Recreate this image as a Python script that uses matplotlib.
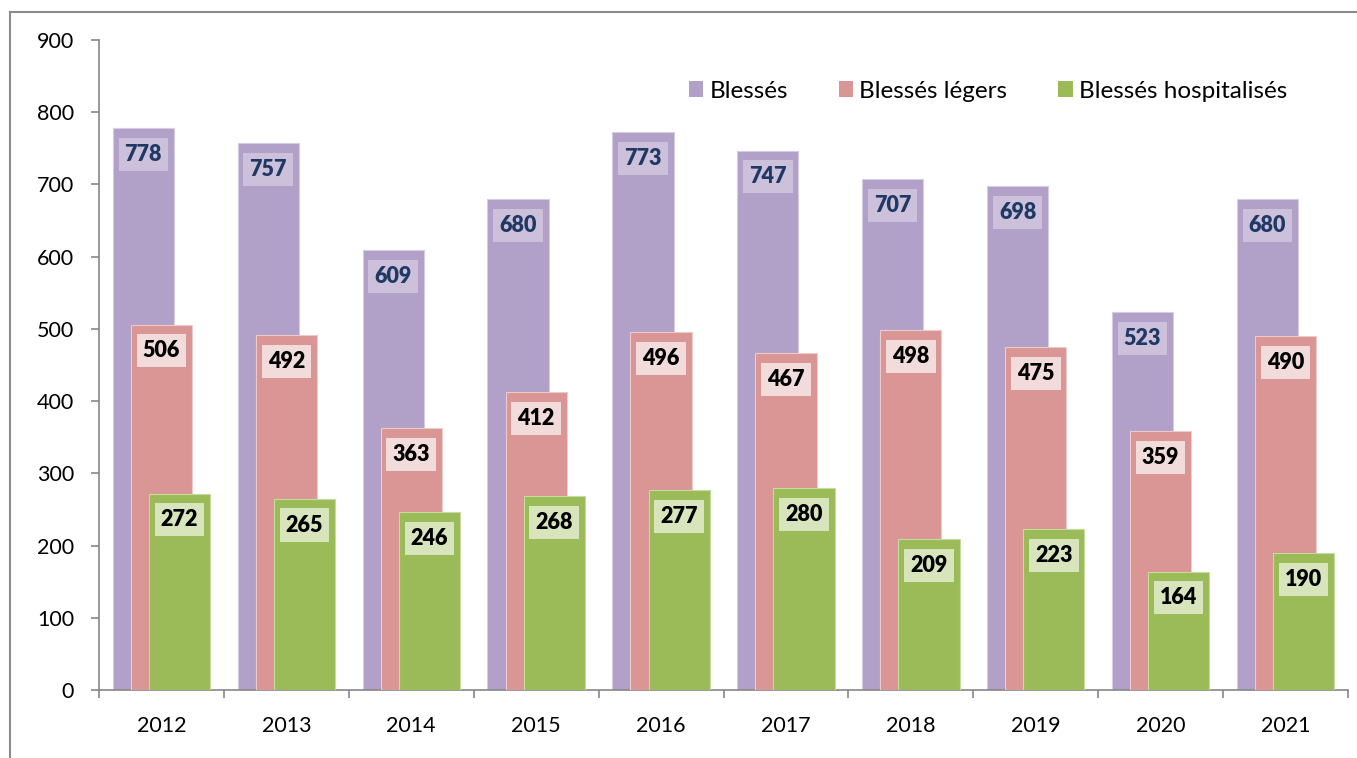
import matplotlib
matplotlib.use("Agg")
import matplotlib.pyplot as plt
from matplotlib.lines import Line2D
import numpy as np

years = ["2012", "2013", "2014", "2015", "2016", "2017", "2018", "2019", "2020", "2021"]
blesses = [778, 757, 609, 680, 773, 747, 707, 698, 523, 680]
blesses_legers = [506, 492, 363, 412, 496, 467, 498, 475, 359, 490]
blesses_hosp = [272, 265, 246, 268, 277, 280, 209, 223, 164, 190]
series_names = ["Blessés", "Blessés légers", "Blessés hospitalisés"]
yticks = [0, 100, 200, 300, 400, 500, 600, 700, 800, 900]

plt.rcParams['font.family'] = ['Lato', 'DejaVu Sans']

W, H = 1357, 758
fig = plt.figure(figsize=(W / 100, H / 100), dpi=100)
ax = fig.add_axes([99 / W, 1 - 690 / H, (1348 - 99) / W, (690 - 40) / H])

colors = ["#B1A0C7", "#DA9694", "#9BBB59"]
edges = ["#D6CCE3", "#EDCBCA", "#C7DAA0"]
box_colors = ["#CCC0DA", "#F2DCDB", "#D8E4BC"]
text_colors = ["#1F3864", "black", "black"]
offsets = [-0.145, 0.0, 0.145]
width = 0.49

x = np.arange(len(years)) + 0.5
data = [blesses, blesses_legers, blesses_hosp]
for i, vals in enumerate(data):
    ax.bar(x + offsets[i], vals, width=width, color=colors[i],
           edgecolor=edges[i], linewidth=0.8, label=series_names[i], zorder=2 + i)
    for xi, v in zip(x + offsets[i], vals):
        ax.annotate(str(v), (xi, v), xytext=(0, -19), textcoords="offset points",
                    ha="center", va="center", fontsize=15.5, fontweight="heavy",
                    color=text_colors[i], zorder=10 + i,
                    bbox=dict(boxstyle="square,pad=0.28", facecolor=box_colors[i],
                              edgecolor="none"))

ax.set_xlim(0, len(years))
ax.set_ylim(0, 900)
ax.set_yticks(yticks)
ax.set_yticklabels([str(t) for t in yticks])
ax.set_xticks(np.arange(len(years) + 1))
ax.set_xticklabels([])
ax.set_xticks(x, minor=True)
ax.set_xticklabels(years, minor=True)

for s in ["top", "right"]:
    ax.spines[s].set_visible(False)
for s in ["left", "bottom"]:
    ax.spines[s].set_color("#868686")
    ax.spines[s].set_linewidth(1.2)

ax.tick_params(axis="y", which="major", direction="out", length=6, width=1.2,
               color="#868686", labelsize=15.5, pad=12)
ax.tick_params(axis="x", which="major", direction="out", length=6, width=1.2,
               color="#868686")
ax.tick_params(axis="x", which="minor", length=0, labelsize=15.5, pad=19)

leg = fig.legend(loc="center", bbox_to_anchor=(988 / W, 1 - 91 / H), ncol=3,
                 frameon=False, fontsize=17.5, handlelength=0.6, handleheight=0.6,
                 handletextpad=0.25, columnspacing=2.1, borderpad=0)
for h in leg.legend_handles:
    h.set_edgecolor("none")

# outer chart frame
fig.add_artist(Line2D([10 / W, 10 / W], [0, 1 - 12 / H], transform=fig.transFigure,
                      color="#8C8C8C", linewidth=1.5))
fig.add_artist(Line2D([10 / W, 1], [1 - 12 / H, 1 - 12 / H], transform=fig.transFigure,
                      color="#8C8C8C", linewidth=1.5))

fig.savefig("out.png", dpi=100)
